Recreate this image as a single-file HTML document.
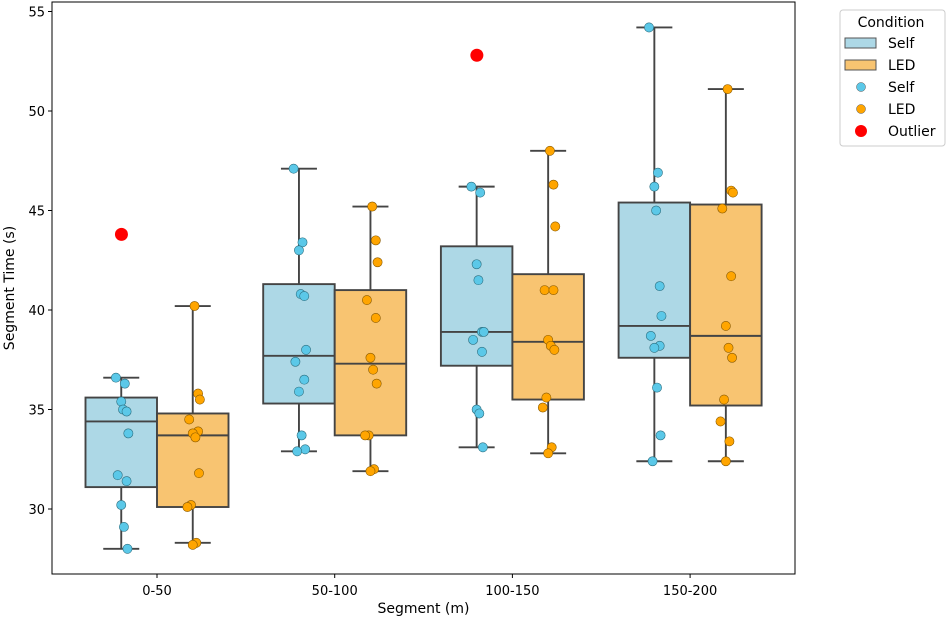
<!DOCTYPE html>
<html><head><meta charset="utf-8"><style>
body{margin:0;background:#fff;font-family:"Liberation Sans","DejaVu Sans",sans-serif}
svg text{font-family:"DejaVu Sans","Liberation Sans",sans-serif}
</style></head><body>
<svg id="chart" width="948" height="621"></svg>
<script>
const categories=["0-50","50-100","100-150","150-200"];
const selfPoints=[
[36.6,36.3,35.4,35.0,34.9,33.8,31.7,31.4,30.2,29.1,28.0],
[47.1,43.4,43.0,40.8,40.7,38.0,37.4,36.5,35.9,33.7,33.0,32.9],
[46.2,45.9,42.3,41.5,38.9,38.9,38.5,37.9,35.0,34.8,33.1],
[54.2,46.9,46.2,45.0,41.2,39.7,38.7,38.2,38.1,36.1,33.7,32.4]];
const ledPoints=[
[40.2,35.8,35.5,34.5,33.9,33.8,33.6,31.8,30.2,30.1,28.3,28.2],
[45.2,43.5,42.4,40.5,39.6,37.6,37.0,36.3,33.7,33.7,32.0,31.9],
[48.0,46.3,44.2,41.0,41.0,38.5,38.2,38.0,35.6,35.1,33.1,32.8],
[51.1,46.0,45.9,45.1,41.7,39.2,38.1,37.6,35.5,34.4,33.4,32.4]];
// box stats: [low whisker, q1, median, q3, high whisker]
const selfBox=[[28.0,31.1,34.4,35.6,36.6],[32.9,35.3,37.7,41.3,47.1],[33.1,37.2,38.9,43.2,46.2],[32.4,37.6,39.2,45.4,54.2]];
const ledBox=[[28.3,30.1,33.7,34.8,40.2],[31.9,33.7,37.3,41.0,45.2],[32.8,35.5,38.4,41.8,48.0],[32.4,35.2,38.7,45.3,51.1]];
const outlierX=[-0.20,1.80];
const outlierY=[43.8,52.8];
const yTicks=[30,35,40,45,50,55];
const jitter=[-0.03,0.02,0.0,0.01,0.03,0.04,-0.02,0.03,0.0,0.015,0.035,-0.01];

const NS="http://www.w3.org/2000/svg";
const svg=document.getElementById('chart');
const L=52,R=795,T=2,B=574;
const STEP=177.7;
const y=v=>509-(v-30)*19.9;
const x=c=>157+c*STEP;
const BW=71.5;
function mk(tag,attrs,parent){const e=document.createElementNS(NS,tag);for(const k in attrs)e.setAttribute(k,attrs[k]);(parent||svg).appendChild(e);return e;}

function drawBox(stats,cx,fill,name){
  const g=mk('g',{});
  
  
  const [lo,q1,md,q3,hi]=stats;
  const st={stroke:'#444','stroke-width':1.9};
  mk('line',Object.assign({x1:cx,x2:cx,y1:y(q3),y2:y(hi)},st),g);
  mk('line',Object.assign({x1:cx,x2:cx,y1:y(q1),y2:y(lo)},st),g);
  mk('line',Object.assign({x1:cx-18,x2:cx+18,y1:y(hi),y2:y(hi)},st),g);
  mk('line',Object.assign({x1:cx-18,x2:cx+18,y1:y(lo),y2:y(lo)},st),g);
  mk('rect',Object.assign({x:cx-BW/2,y:y(q3),width:BW,height:y(q1)-y(q3),fill:fill},st),g);
  mk('line',Object.assign({x1:cx-BW/2,x2:cx+BW/2,y1:y(md),y2:y(md)},st),g);
}
mk('rect',{x:L,y:T,width:R-L,height:B-T,fill:'none',stroke:'#000','stroke-width':1});
categories.forEach((c,i)=>{
  drawBox(selfBox[i],x(i)-BW/2,'#add8e6','self-box-'+c);
  drawBox(ledBox[i],x(i)+BW/2,'#f8c471','led-box-'+c);
});
categories.forEach((c,i)=>{
  selfPoints[i].forEach((v,j)=>{
    const p=mk('circle',{cx:x(i)-BW/2+jitter[j%jitter.length]*STEP,cy:y(v),r:4.6,fill:'#5bc8e8',stroke:'#2c6f80','stroke-width':0.6});
    
    
  });
  ledPoints[i].forEach((v,j)=>{
    const p=mk('circle',{cx:x(i)+BW/2+jitter[(j+3)%jitter.length]*STEP,cy:y(v),r:4.6,fill:'#ffa500',stroke:'#8a5a00','stroke-width':0.6});
    
    
  });
});
outlierY.forEach((v,k)=>{
  const p=mk('circle',{cx:x(outlierX[k]),cy:y(v),r:6.5,fill:'#ff0000'});
  
  
});
yTicks.forEach(t=>{
  mk('line',{x1:L-4,x2:L,y1:y(t),y2:y(t),stroke:'#000'});
  const tx=mk('text',{x:L-7,y:y(t)+5,'text-anchor':'end','font-size':13});
  tx.textContent=t;
  
  
});
categories.forEach((c,i)=>{
  mk('line',{x1:x(i),x2:x(i),y1:B,y2:B+4,stroke:'#000'});
  const tx=mk('text',{x:x(i),y:B+21,'text-anchor':'middle','font-size':13});
  tx.textContent=c;
  
  
});
const xt=mk('text',{x:(L+R)/2,y:B+39,'text-anchor':'middle','font-size':14});
xt.textContent='Segment (m)';


const yt=mk('text',{x:0,y:0,'text-anchor':'middle','font-size':14,transform:'translate(14,'+((T+B)/2)+') rotate(-90)'});
yt.textContent='Segment Time (s)';


const lg=mk('g',{});


mk('rect',{x:840,y:10,width:105,height:136,rx:3,fill:'#fff',stroke:'#ccc'},lg);
const lt=mk('text',{x:891,y:27,'text-anchor':'middle','font-size':14},lg);lt.textContent='Condition';
const items=[['rect','#add8e6','Self'],['rect','#f8c471','LED'],['dot','#5bc8e8','Self'],['dot','#ffa500','LED'],['big','#ff0000','Outlier']];
items.forEach((it,k)=>{
  const yy=43+k*22;
  if(it[0]==='rect')mk('rect',{x:845,y:yy-5,width:31,height:10,fill:it[1],stroke:'#555'},lg);
  else if(it[0]==='dot')mk('circle',{cx:861,cy:yy,r:4.5,fill:it[1],stroke:'#555','stroke-width':0.5},lg);
  else mk('circle',{cx:861,cy:yy,r:6,fill:it[1]},lg);
  const t=mk('text',{x:888,y:yy+5,'font-size':14},lg);t.textContent=it[2];
  
  
});
</script>
</body></html>
